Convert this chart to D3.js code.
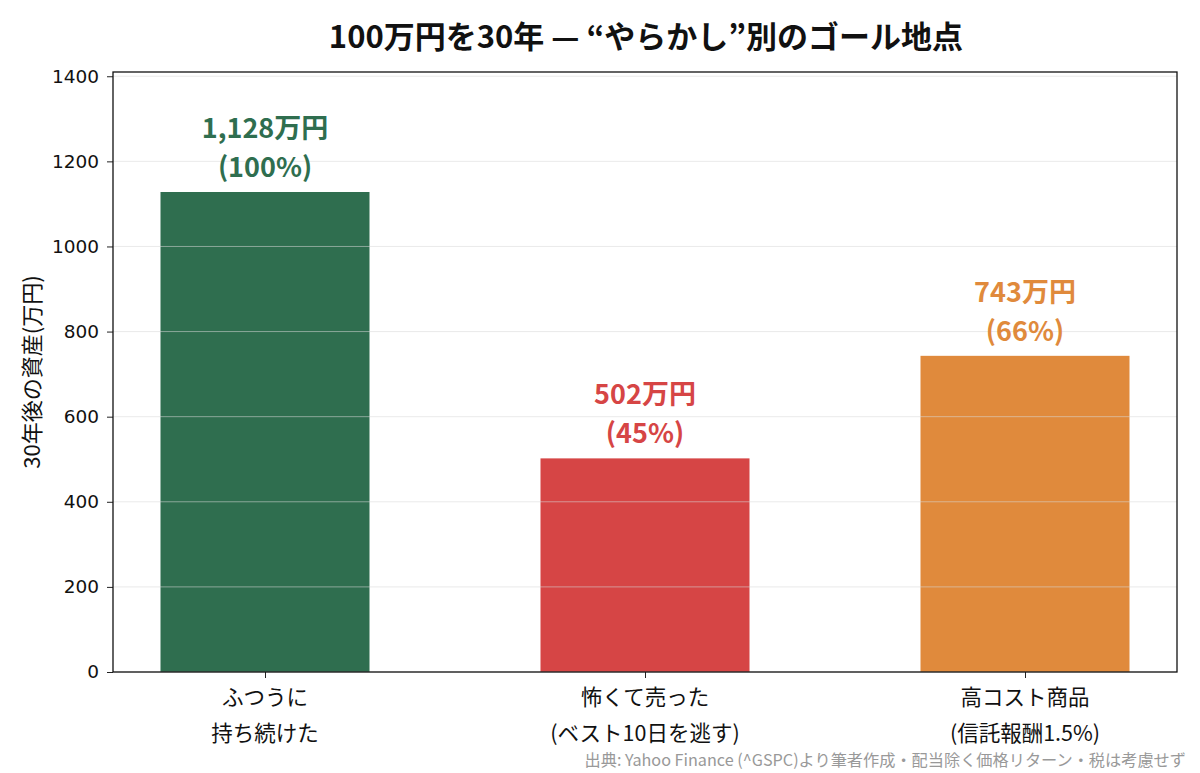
<!DOCTYPE html>
<html><head><meta charset="utf-8">
<script src="https://cdn.jsdelivr.net/npm/d3@7"></script>
<style>body{margin:0;background:#fff;} svg{display:block;font-family:"Noto Sans CJK JP","Noto Sans",sans-serif;}</style>
</head><body>
<svg id="c" width="1200" height="773"></svg>
<script>
const categories = [["ふつうに","持ち続けた"],["怖くて売った","(ベスト10日を逃す)"],["高コスト商品","(信託報酬1.5%)"]];
const values = [1128, 502, 743];
const valueLabels = [["1,128万円","(100%)"],["502万円","(45%)"],["743万円","(66%)"]];
const colors = ["#2f6e4f","#d64545","#e08a3c"];
const yTicks = [0,200,400,600,800,1000,1200,1400];
const title = "100万円を30年 — “やらかし”別のゴール地点";
const yLabel = "30年後の資産(万円)";
const footer = "出典: Yahoo Finance (^GSPC)より筆者作成・配当除く価格リターン・税は考慮せず";

const svg = d3.select("#c");
const m = {l:113, r:1177, t:72, b:672};
const idx = d3.range(values.length);
const x = d3.scaleLinear().domain([-0.4, values.length-1+0.4]).range([m.l, m.r]);
const y = d3.scaleLinear().domain([0, 1410]).range([m.b, m.t]);
const bw = (x(1)-x(0))*0.55;

// bars
svg.append("g").selectAll("rect").data(idx).join("rect")
  .attr("x", i=>x(i)-bw/2).attr("width", bw)
  .attr("y", i=>y(values[i])).attr("height", i=>y(0)-y(values[i]))
  .attr("fill", i=>colors[i]);

// grid (drawn over bars, faint)
svg.append("g").selectAll("line").data(yTicks).join("line")
  .attr("x1", m.l).attr("x2", m.r).attr("y1", d=>y(d)).attr("y2", d=>y(d))
  .attr("stroke", "#d8d8d8").attr("stroke-opacity", 0.55).attr("stroke-width", 1);

// y axis
const ya = svg.append("g").attr("transform", `translate(${m.l},0)`)
  .call(d3.axisLeft(y).tickValues(yTicks).tickSize(6).tickPadding(8).tickFormat(d3.format("d")));
ya.select(".domain").remove();
ya.selectAll("text").attr("font-size", 18.5).attr("fill", "#111").attr("font-family", "'DejaVu Sans', sans-serif");
ya.selectAll("line").attr("stroke", "#222");

// x axis ticks
const xa = svg.append("g").attr("transform", `translate(0,${m.b})`)
  .call(d3.axisBottom(x).tickValues(idx).tickSize(6).tickFormat(""));
xa.select(".domain").remove();
xa.selectAll("line").attr("stroke", "#222");

// frame
svg.append("rect").attr("x", m.l).attr("y", m.t).attr("width", m.r-m.l).attr("height", m.b-m.t)
  .attr("fill", "none").attr("stroke", "#111").attr("stroke-width", 1.3);

// category labels
const cl = svg.append("g").selectAll("text").data(idx).join("text")
  .attr("x", i=>x(i)).attr("text-anchor", "middle").attr("font-size", 21.5).attr("fill", "#111");
cl.each(function(i){
  const t = d3.select(this);
  categories[i].forEach((s,k)=>t.append("tspan").attr("x", x(i)).attr("y", 705 + k*36).text(s));
});

// value labels
const vl = svg.append("g").selectAll("text").data(idx).join("text")
  .attr("text-anchor", "middle").attr("font-size", 27).attr("font-weight", "bold").attr("fill", i=>colors[i]);
vl.each(function(i){
  const t = d3.select(this);
  valueLabels[i].forEach((s,k)=>t.append("tspan").attr("x", x(i)).attr("y", y(values[i]) - 54 + k*39).text(s));
});

// title
svg.append("text").attr("x", 646).attr("y", 48).attr("text-anchor", "middle")
  .attr("font-size", 31).attr("font-weight", "bold").attr("fill", "#111").text(title);

// y label
svg.append("text").attr("transform", `translate(40,${(m.t+m.b)/2}) rotate(-90)`)
  .attr("text-anchor", "middle").attr("font-size", 22).attr("fill", "#111").text(yLabel);

// footer
svg.append("text").attr("x", 1186).attr("y", 766).attr("text-anchor", "end")
  .attr("font-size", 16.2).attr("fill", "#999").text(footer);
</script>
</body></html>
